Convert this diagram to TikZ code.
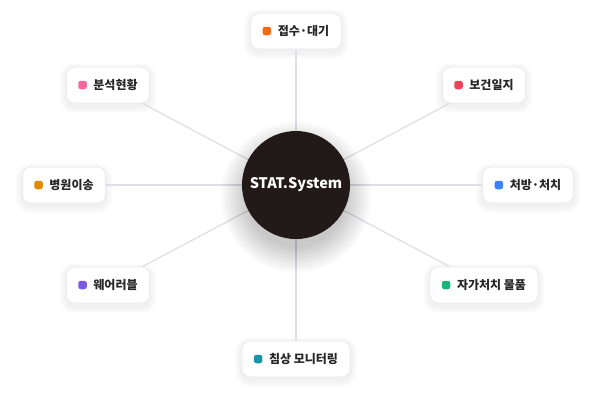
\documentclass[tikz,border=0pt]{standalone}
\usepackage{fontspec}
\setmainfont{Noto Sans CJK KR}
\usetikzlibrary{backgrounds}
\definecolor{linec}{HTML}{DEDFE6}
\definecolor{borderc}{HTML}{E9E9EE}
\definecolor{hubc}{HTML}{221A18}
\definecolor{shadowc}{HTML}{1E1E38}
\definecolor{cOrange}{HTML}{F5690F}
\definecolor{cRed}{HTML}{F0435A}
\definecolor{cBlue}{HTML}{3B82F6}
\definecolor{cGreen}{HTML}{18B47C}
\definecolor{cCyan}{HTML}{1497A8}
\definecolor{cPurple}{HTML}{7B5BE0}
\definecolor{cAmber}{HTML}{E08A00}
\definecolor{cPink}{HTML}{F06A9B}
\tikzset{
  itembox/.style={draw=borderc, line width=0.8pt, fill=white, rounded corners=8pt,
    minimum height=36pt, inner xsep=12pt, inner ysep=0pt,
    font=\bfseries\fontsize{12}{14}\selectfont, text=black!85},
  dotmark/.style={fill=#1, rounded corners=2.5pt, minimum size=8.5pt, inner sep=0pt},
  spoke/.style={draw=linec, line width=1.2pt},
  hub/.style={circle, fill=hubc, minimum size=108pt, inner sep=0pt, text=white,
    font=\bfseries\fontsize{14.5}{16}\selectfont}
}
\begin{document}
\begin{tikzpicture}[x=1pt,y=-1pt]
\useasboundingbox (0,0) rectangle (596,407);
\coordinate (c) at (296,185);
\node[itembox] (n1) at (296,31) {\hspace*{15pt}접수·대기};
\node[itembox] (n2) at (484,85) {\hspace*{15pt}보건일지};
\node[itembox] (n3) at (528,185) {\hspace*{15pt}처방·처치};
\node[itembox] (n4) at (484,285) {\hspace*{15pt}자가처치 물품};
\node[itembox] (n5) at (296,359) {\hspace*{15pt}침상 모니터링};
\node[itembox] (n6) at (108,285) {\hspace*{15pt}웨어러블};
\node[itembox] (n7) at (64,185) {\hspace*{15pt}병원이송};
\node[itembox] (n8) at (108,85) {\hspace*{15pt}분석현황};
\node[dotmark=cOrange] (d1) at ([xshift=16.5pt]n1.west) {};
\node[dotmark=cRed] (d2) at ([xshift=16.5pt]n2.west) {};
\node[dotmark=cBlue] (d3) at ([xshift=16.5pt]n3.west) {};
\node[dotmark=cGreen] (d4) at ([xshift=16.5pt]n4.west) {};
\node[dotmark=cCyan] (d5) at ([xshift=16.5pt]n5.west) {};
\node[dotmark=cPurple] (d6) at ([xshift=16.5pt]n6.west) {};
\node[dotmark=cAmber] (d7) at ([xshift=16.5pt]n7.west) {};
\node[dotmark=cPink] (d8) at ([xshift=16.5pt]n8.west) {};
\begin{scope}[on background layer]
  \fill[white] (0,0) rectangle (596,407);
  \foreach \n in {n1,n2,n3,n4,n5,n6,n7,n8}{
    \foreach \i in {1,...,7}{
      \fill[shadowc, opacity=0.007, rounded corners={8pt+\i pt}]
        ([xshift=-\i pt, yshift={\i pt-3pt}]\n.north west) rectangle
        ([xshift=\i pt, yshift={-\i pt-3pt}]\n.south east);
    }
  }
  \draw[spoke] (c) -- (n1);
  \draw[spoke] (c) -- (n2);
  \draw[spoke] (c) -- (n3);
  \draw[spoke] (c) -- (n4);
  \draw[spoke] (c) -- (n5);
  \draw[spoke] (c) -- (n6);
  \draw[spoke] (c) -- (n7);
  \draw[spoke] (c) -- (n8);
  \foreach \i in {0,...,26}{
    \fill[shadowc, opacity=0.009] ([yshift=-12pt]c) circle[radius={50pt+\i pt}];
  }
\end{scope}
\node[hub] (h) at (c) {STAT.System};
\end{tikzpicture}
\end{document}
